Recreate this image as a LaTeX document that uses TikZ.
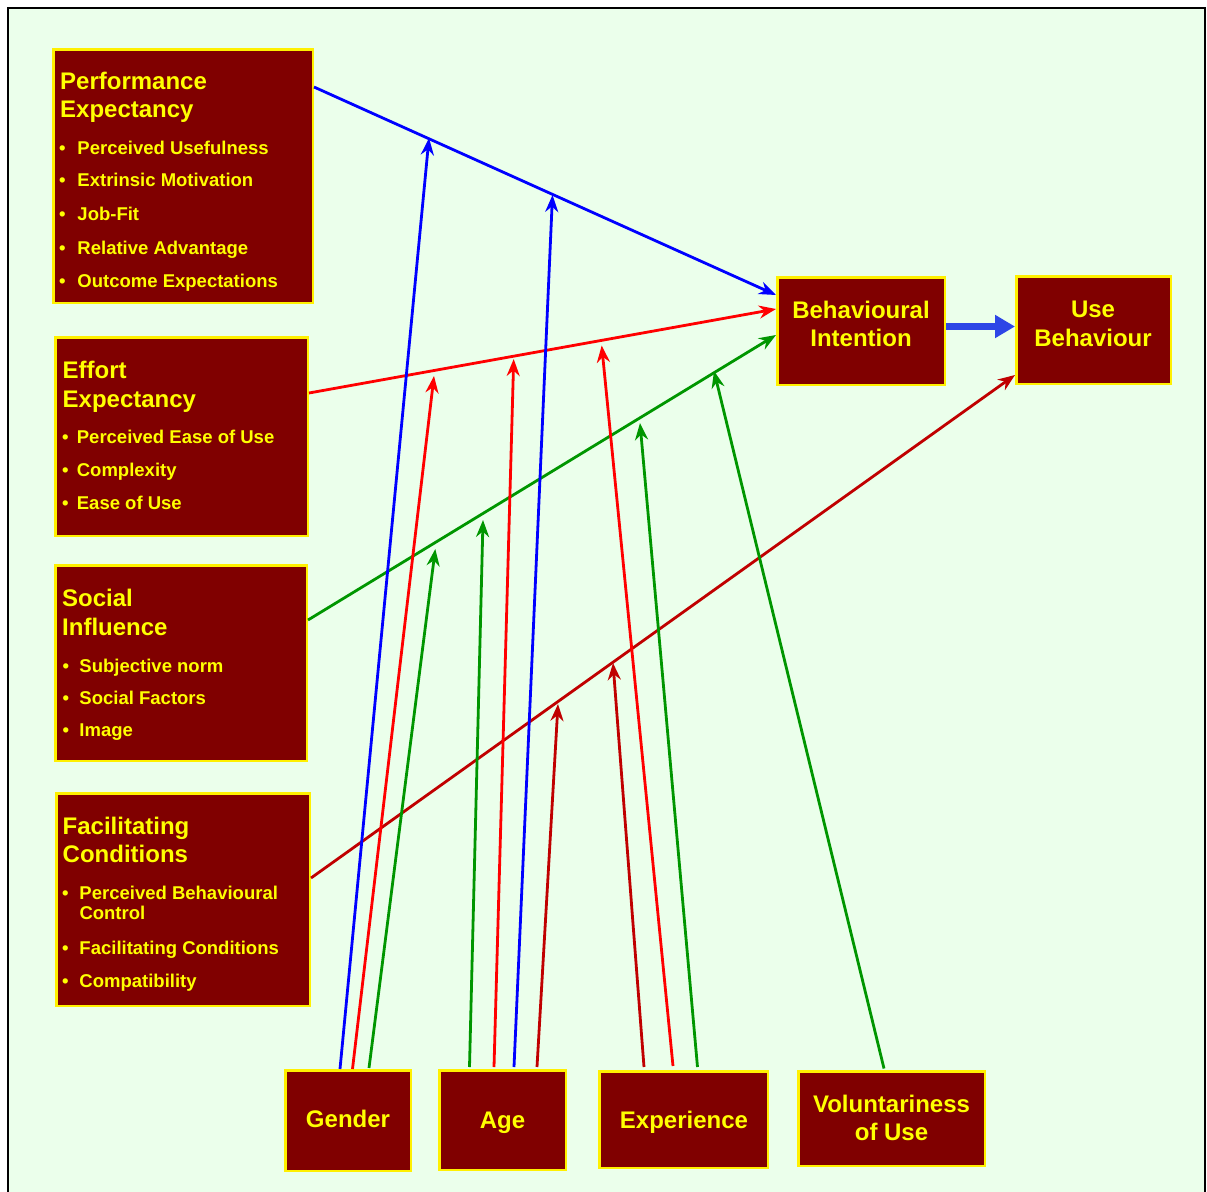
\documentclass[tikz,border=0pt]{standalone}
\usepackage{fontspec}
\setmainfont{Liberation Sans}
\usetikzlibrary{arrows.meta,calc}

\definecolor{bg}{RGB}{235,255,235}
\definecolor{boxfill}{RGB}{128,0,0}
\definecolor{boxtext}{RGB}{255,255,0}
\definecolor{boxedge}{RGB}{255,240,0}
\definecolor{linkblue}{RGB}{0,0,255}
\definecolor{linkred}{RGB}{255,0,0}
\definecolor{linkgreen}{RGB}{0,150,0}
\definecolor{linkdred}{RGB}{192,0,0}
\definecolor{flowblue}{RGB}{45,70,230}

\tikzset{
  construct/.style={draw=boxedge, line width=2.5pt, fill=boxfill, inner sep=0pt, anchor=north west},
  heading/.style={text=boxtext, font=\fontsize{24}{29}\selectfont\bfseries, inner sep=0pt, anchor=base west},
  centred/.style={text=boxtext, font=\fontsize{24}{29}\selectfont\bfseries, inner sep=0pt, anchor=base},
  entry/.style={text=boxtext, font=\fontsize{18.5}{21}\selectfont\bfseries, inner sep=0pt, anchor=base west},
  link/.style={line width=2.8pt, -{Stealth[length=17pt,width=13pt,inset=5.5pt]}},
  flow/.style={line width=7pt, color=flowblue, -{Triangle[length=20pt,width=22pt]}},
}

% box from its outer corners (left, top, right, bottom), in pixels
\newcommand\construct[5]{%
  \node[construct, minimum width={#4pt-#2pt-2.5pt}, minimum height={#5pt-#3pt-2.5pt}]
    (#1) at (#2,#3) {};}
% bullet with a fixed gap before the item text
\newcommand\itemdot[1]{\makebox[#1pt][l]{\textbullet}}

\begin{document}
\begin{tikzpicture}[x=1pt,y=-1pt]
\useasboundingbox (0,0) rectangle (1207,1191);
\fill[white] (0,0) rectangle (1207,1191);
\fill[bg] (8,8) rectangle (1205,1196);
\draw[line width=2pt] (8,1196) -- (8,8) -- (1205,8) -- (1205,1196);

% constructs
\construct{pe}{52}{48}{314}{304}
\construct{ee}{54}{336}{309}{537}
\construct{si}{54}{564}{308}{762}
\construct{fc}{55}{792}{311}{1007}
\construct{bi}{776}{276}{946}{386}
\construct{ub}{1015}{275}{1172}{385}
\construct{gen}{284}{1069}{412}{1172}
\construct{age}{438}{1069}{567}{1171}
\construct{exp}{598}{1070}{769}{1169}
\construct{vol}{797}{1070}{986}{1167}

% Performance Expectancy
\node[heading] (pe-h1) at (60,89.3) {Performance};
\node[heading] (pe-h2) at (60,117) {Expectancy};
\node[entry] (pe-1) at (59,154) {\itemdot{18.3}Perceived Usefulness};
\node[entry] (pe-2) at (59,186.5) {\itemdot{18.3}Extrinsic Motivation};
\node[entry] (pe-3) at (59,220) {\itemdot{18.3}Job-Fit};
\node[entry] (pe-4) at (59,254) {\itemdot{18.3}Relative Advantage};
\node[entry] (pe-5) at (59,287.5) {\itemdot{18.3}Outcome Expectations};

% Effort Expectancy
\node[heading] (ee-h1) at (62.5,378.3) {Effort};
\node[heading] (ee-h2) at (62.5,407.3) {Expectancy};
\node[entry] (ee-1) at (62,443.3) {\itemdot{14.7}Perceived Ease of Use};
\node[entry] (ee-2) at (62,476) {\itemdot{14.7}Complexity};
\node[entry] (ee-3) at (62,509) {\itemdot{14.7}Ease of Use};

% Social Influence
\node[heading] (si-h1) at (62,606.7) {Social};
\node[heading] (si-h2) at (62,635.7) {Influence};
\node[entry] (si-1) at (62.5,672.3) {\itemdot{16.8}Subjective norm};
\node[entry] (si-2) at (62.5,704) {\itemdot{16.8}Social Factors};
\node[entry] (si-3) at (62.5,736.7) {\itemdot{16.8}Image};

% Facilitating Conditions
\node[heading] (fc-h1) at (62.5,834) {Facilitating};
\node[heading] (fc-h2) at (62.5,862.7) {Conditions};
\node[entry] (fc-1) at (62,899) {\itemdot{17.3}Perceived Behavioural};
\node[entry] (fc-1b) at (79.3,919.3) {Control};
\node[entry] (fc-2) at (62,954) {\itemdot{17.3}Facilitating Conditions};
\node[entry] (fc-3) at (62,987.3) {\itemdot{17.3}Compatibility};

% outcome constructs
\node[centred] (bi-1) at (861,318.3) {Behavioural};
\node[centred] (bi-2) at (861,346.7) {Intention};
\node[centred] (ub-1) at (1093,317.3) {Use};
\node[centred] (ub-2) at (1093,346.7) {Behaviour};

% moderators
\node[centred] (gen-t) at (348,1127.3) {Gender};
\node[centred] (age-t) at (502.5,1128.3) {Age};
\node[centred] (exp-t) at (684,1128) {Experience};
\node[centred] (vol-1) at (891.5,1112.7) {Voluntariness};
\node[centred] (vol-2) at (891.5,1140.7) {of Use};

% points where the moderating arrows meet the main paths
\coordinate (g-blue) at (429,138);
\coordinate (g-red) at (434,376);
\coordinate (g-green) at (435.3,549);
\coordinate (a-green) at (483,520);
\coordinate (a-red) at (513.7,359);
\coordinate (a-blue) at (552.5,195);
\coordinate (a-dred) at (558,704);
\coordinate (e-dred) at (613,663);
\coordinate (e-red) at (601.7,345.5);
\coordinate (e-green) at (640,423);
\coordinate (v-green) at (714,371);

% main paths
\draw[link, linkblue] ([yshift=89pt]pe.east) -- ([yshift=36pt]bi.west);
\draw[link, linkred] ([yshift=43.5pt]ee.east) -- ([yshift=22pt]bi.west);
\draw[link, linkgreen] ([yshift=43pt]si.east) -- ([yshift=-4pt]bi.west);
\draw[link, linkdred] ([yshift=21.5pt]fc.east) -- ([yshift=-45pt]ub.west);
\draw[flow] ([yshift=4.5pt]bi.east) -- ([yshift=3.5pt]ub.west);

% moderating effects
\draw[link, linkblue] ([xshift=-8pt]gen.north) -- (g-blue);
\draw[link, linkred] ([xshift=4.5pt]gen.north) -- (g-red);
\draw[link, linkgreen] ([xshift=21pt,yshift=1pt]gen.north) -- (g-green);

\draw[link, linkgreen] ([xshift=-33pt,yshift=2pt]age.north) -- (a-green);
\draw[link, linkred] ([xshift=-8.5pt,yshift=2pt]age.north) -- (a-red);
\draw[link, linkblue] ([xshift=11.5pt,yshift=2pt]age.north) -- (a-blue);
\draw[link, linkdred] ([xshift=34.5pt,yshift=2pt]age.north) -- (a-dred);

\draw[link, linkdred] ([xshift=-39.5pt,yshift=3pt]exp.north) -- (e-dred);
\draw[link, linkred] ([xshift=-10.5pt,yshift=4pt]exp.north) -- (e-red);
\draw[link, linkgreen] ([xshift=14pt,yshift=3pt]exp.north) -- (e-green);

\draw[link, linkgreen] ([xshift=-7.5pt,yshift=1.5pt]vol.north) -- (v-green);
\end{tikzpicture}
\end{document}
